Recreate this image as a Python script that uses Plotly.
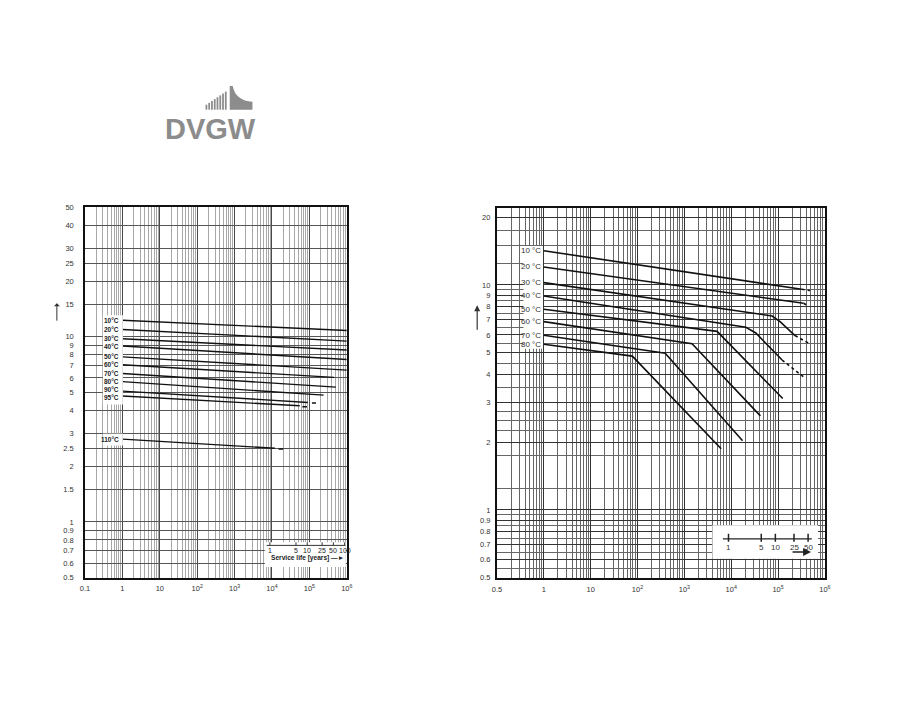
import math
import plotly.graph_objects as go

W, H = 904, 715
HOURS_PER_YEAR = 8760

# ---------------- left chart data (time in hours, stress) ----------------
LEFT_LABELS = ["10°C", "20°C", "30°C", "40°C", "50°C", "60°C", "70°C", "80°C", "90°C", "95°C", "110°C"]
LEFT_T_START = [1, 1, 1, 1, 1, 1, 1, 1, 1, 1, 1]
LEFT_T_END = [1e6, 1e6, 1e6, 1e6, 1e6, 4.6e5, 5.1e5, 2.4e5, 9.1e4, 5.5e4, 1.2e4]
LEFT_S_START = [12.28, 10.95, 9.76, 8.92, 7.79, 7.06, 6.34, 5.73, 5.09, 4.79, 2.80]
LEFT_S_END = [10.82, 9.48, 8.49, 7.54, 6.61, 6.04, 5.35, 4.84, 4.42, 4.24, 2.50]
LEFT_LABEL_NUDGE = [0, 0, 0, 0, 0, 0, 0, 0, 1.5, -1.5, 0]
LEFT_MARK_T0 = [1.17e5, 6.5e4, 1.5e4]
LEFT_MARK_T1 = [1.5e5, 8.6e4, 2.0e4]
LEFT_MARK_S = [4.39, 4.19, 2.48]
LEFT_YEARS = [1, 5, 10, 25, 50, 100]
LEFT_X_TICKS = [0.1, 1, 10, 1e2, 1e3, 1e4, 1e5, 1e6]
LEFT_X_TEXT = ["0.1", "1", "10", "10<sup>2</sup>", "10<sup>3</sup>", "10<sup>4</sup>", "10<sup>5</sup>", "10<sup>6</sup>"]
LEFT_Y_TICKS = [0.5, 0.6, 0.7, 0.8, 0.9, 1, 1.5, 2, 2.5, 3, 4, 5, 6, 7, 8, 9, 10, 15, 20, 25, 30, 40, 50]
LEFT_Y_TEXT = ["0.5", "0.6", "0.7", "0.8", "0.9", "1", "1.5", "2", "2.5", "3", "4", "5", "6", "7", "8", "9",
               "10", "15", "20", "25", "30", "40", "50"]

# ---------------- right chart data ----------------
RIGHT_LABELS = ["10 °C", "20 °C", "30 °C", "40 °C", "50 °C", "60 °C", "70 °C", "80 °C"]
RIGHT_T = [
    [1, 3.2e5],
    [1, 3.5e5],
    [1, 7.5e4, 1.12e5, 2.3e5],
    [1, 2.06e4, 3.35e4, 1.22e5],
    [1, 5.0e3, 1.26e5],
    [1, 1.46e3, 4.2e4],
    [1, 390, 1.75e4],
    [1, 77.5, 6.1e3],
]
RIGHT_S = [
    [14.2, 9.57],
    [12.03, 8.29],
    [10.24, 7.28, 6.85, 5.96],
    [8.94, 6.49, 6.12, 4.64],
    [7.80, 6.22, 3.13],
    [6.87, 5.48, 2.62],
    [5.98, 4.97, 2.03],
    [5.45, 4.83, 1.87],
]
RIGHT_EXT_T = [[3.2e5, 4.8e5], [3.5e5, 4.4e5], [2.3e5, 4.8e5], [1.22e5, 3.8e5]]
RIGHT_EXT_S = [[9.57, 9.45], [8.29, 8.07], [5.96, 5.47], [4.64, 3.85]]
RIGHT_YEARS = [1, 5, 10, 25, 50]
RIGHT_X_TICKS = [0.1, 1, 10, 1e2, 1e3, 1e4, 1e5, 1e6]
RIGHT_X_TEXT = ["0.5", "1", "10", "10<sup>2</sup>", "10<sup>3</sup>", "10<sup>4</sup>", "10<sup>5</sup>", "10<sup>6</sup>"]
RIGHT_Y_TICKS = [0.5, 0.6, 0.7, 0.8, 0.9, 1, 2, 3, 4, 5, 6, 7, 8, 9, 10, 20]
RIGHT_Y_TEXT = ["0.5", "0.6", "0.7", "0.8", "0.9", "1", "2", "3", "4", "5", "6", "7", "8", "9", "10", "20"]
RIGHT_Y_MINOR = [0.55, 0.65, 0.75, 0.85, 0.95, 1.25, 1.75, 2.25, 2.5, 2.75, 3.5, 4.5, 5.5, 6.5,
                 7.5, 8.5, 9.5, 12.5, 15, 17.5]

LOG_MINOR = [m * 10 ** e for e in range(-1, 6) for m in range(2, 10)]


def px(x):
    return x / W


def py(y):
    return 1 - y / H


FONT = "Liberation Sans, Arial, sans-serif"
fig = go.Figure()

# ---------------- left chart traces ----------------
for lab, t0, t1, s0, s1, nudge in zip(LEFT_LABELS, LEFT_T_START, LEFT_T_END, LEFT_S_START, LEFT_S_END,
                                      LEFT_LABEL_NUDGE):
    fig.add_trace(go.Scatter(x=[t0, t1], y=[s0, s1], mode="lines", line=dict(color="#111", width=1.4),
                             xaxis="x", yaxis="y", hoverinfo="skip", showlegend=False))
    fig.add_annotation(x=math.log10(t0), y=math.log10(s0), xref="x", yref="y", text=lab, showarrow=False,
                       xanchor="right", yanchor="middle", xshift=-2, yshift=nudge, borderpad=0,
                       font=dict(family=FONT, size=6.5, color="#222", weight="bold"))
for t0, t1, s in zip(LEFT_MARK_T0, LEFT_MARK_T1, LEFT_MARK_S):
    fig.add_trace(go.Scatter(x=[t0, t1], y=[s, s], mode="lines", line=dict(color="#111", width=1.4),
                             xaxis="x", yaxis="y", hoverinfo="skip", showlegend=False))

# ---------------- right chart traces ----------------
for lab, ts, ss in zip(RIGHT_LABELS, RIGHT_T, RIGHT_S):
    fig.add_trace(go.Scatter(x=ts, y=ss, mode="lines", line=dict(color="#111", width=1.6),
                             xaxis="x2", yaxis="y2", hoverinfo="skip", showlegend=False))
    fig.add_annotation(x=math.log10(ts[0]), y=math.log10(ss[0]), xref="x2", yref="y2", text=lab,
                       showarrow=False, xanchor="right", yanchor="middle", xshift=-2,
                       borderpad=0, font=dict(family=FONT, size=8, color="#333"))
for ts, ss in zip(RIGHT_EXT_T, RIGHT_EXT_S):
    fig.add_trace(go.Scatter(x=ts, y=ss, mode="lines", line=dict(color="#111", width=1.6, dash="3px,3px"),
                             xaxis="x2", yaxis="y2", hoverinfo="skip", showlegend=False))

# ---------------- shapes (drawn above the grid) ----------------
shapes = []
# white label columns
shapes.append(dict(type="rect", xref="x domain", yref="y domain", x0=0.068, x1=0.1445, y0=0.468, y1=0.709,
                   fillcolor="white", line_width=0, layer="above"))
shapes.append(dict(type="rect", xref="x domain", yref="y domain", x0=0.068, x1=0.1445, y0=0.357, y1=0.389,
                   fillcolor="white", line_width=0, layer="above"))
shapes.append(dict(type="rect", xref="x2 domain", yref="y2 domain", x0=0.081, x1=0.1405, y0=0.620, y1=0.898,
                   fillcolor="white", line_width=0, layer="above"))
# inset boxes
shapes.append(dict(type="rect", xref="x domain", yref="y domain", x0=0.687, x1=0.996, y0=0.029, y1=0.096,
                   fillcolor="white", line_width=0, layer="above"))
shapes.append(dict(type="rect", xref="x2 domain", yref="y2 domain", x0=0.657, x1=0.979, y0=0.051, y1=0.142,
                   fillcolor="white", line_width=0, layer="above"))
# inset axis lines
shapes.append(dict(type="line", xref="x domain", yref="y domain", x0=0.694, x1=0.995, y0=0.0872, y1=0.0872,
                   line=dict(color="#333", width=1), layer="above"))
shapes.append(dict(type="line", xref="x2 domain", yref="y2 domain", x0=0.689, x1=0.960, y0=0.105, y1=0.105,
                   line=dict(color="#222", width=1.3), layer="above"))
# inset ticks (years converted to hours, data coordinates)
for yr in LEFT_YEARS:
    shapes.append(dict(type="line", xref="x", yref="y", x0=yr * HOURS_PER_YEAR, x1=yr * HOURS_PER_YEAR,
                       y0=0.748, y1=0.776, line=dict(color="#333", width=1), layer="above"))
for yr in RIGHT_YEARS:
    shapes.append(dict(type="line", xref="x2", yref="y2", x0=yr * HOURS_PER_YEAR, x1=yr * HOURS_PER_YEAR,
                       y0=0.723, y1=0.783, line=dict(color="#222", width=1.5), layer="above"))

# logo stripes
for i in range(8):
    x0 = 203.0 + i * 2.8
    top = 102 - i * 1.9
    shapes.append(dict(type="rect", xref="paper", yref="paper", x0=px(x0), x1=px(x0 + 1.8),
                       y0=py(107), y1=py(top), fillcolor="#8c8c8c", line_width=0, layer="above"))
path = "M {:.5f},{:.5f} L {:.5f},{:.5f} Q {:.5f},{:.5f} {:.5f},{:.5f} L {:.5f},{:.5f} L {:.5f},{:.5f} Z".format(
    px(227.5), py(83), px(230.5), py(83), px(233.5), py(98), px(250.5), py(99), px(250.5), py(107),
    px(227.5), py(107))
shapes.append(dict(type="path", xref="paper", yref="paper", path=path, fillcolor="#8c8c8c", line_width=0,
                   layer="above"))

fig.update_layout(shapes=shapes)

# inset tick labels
for yr in LEFT_YEARS:
    fig.add_annotation(x=math.log10(yr * HOURS_PER_YEAR), y=math.log10(0.705), xref="x", yref="y",
                       text=str(yr), showarrow=False, xanchor="center", yanchor="middle",
                       font=dict(family=FONT, size=7, color="#222"))
for yr in RIGHT_YEARS:
    fig.add_annotation(x=math.log10(yr * HOURS_PER_YEAR), y=math.log10(0.683), xref="x2", yref="y2",
                       text=str(yr), showarrow=False, xanchor="center", yanchor="middle",
                       font=dict(family=FONT, size=8, color="#333"))

# logo text
fig.add_annotation(x=px(208), y=py(127), xref="paper", yref="paper", text="DVGW", showarrow=False,
                   xanchor="center", yanchor="middle",
                   font=dict(family=FONT, size=29, color="#8c8c8c", weight="bold"))

# service life text left inset
fig.add_annotation(x=px(267), y=py(561.5), xref="paper", yref="paper", text="Service life [years] —►",
                   showarrow=False, xanchor="left", yanchor="middle",
                   font=dict(family=FONT, size=6.6, color="#222", weight="bold"))
# right inset arrow
fig.add_annotation(x=px(816), y=py(555), ax=-20, ay=0, xref="paper", yref="paper", text="",
                   showarrow=True, arrowhead=2, arrowsize=1, arrowwidth=1.6, arrowcolor="#222")
# vertical arrows
fig.add_annotation(x=px(52.5), y=py(303), ax=0, ay=19, xref="paper", yref="paper", text="",
                   showarrow=True, arrowhead=1, arrowsize=1, arrowwidth=1, arrowcolor="#333")
fig.add_annotation(x=px(478), y=py(305), ax=0, ay=26, xref="paper", yref="paper", text="",
                   showarrow=True, arrowhead=2, arrowsize=1, arrowwidth=1.2, arrowcolor="#333")

tickfont = dict(family=FONT, size=7.5, color="#333")

fig.update_layout(
    width=W, height=H, margin=dict(l=0, r=0, t=0, b=0),
    paper_bgcolor="white", plot_bgcolor="white", showlegend=False,
    xaxis=dict(type="log", domain=[px(81), px(346)], range=[-1, 6], tickmode="array",
               tickvals=LEFT_X_TICKS, ticktext=LEFT_X_TEXT, tickfont=tickfont, ticks="",
               showgrid=True, gridcolor="#4a4a4a", gridwidth=1,
               minor=dict(tickvals=LOG_MINOR, showgrid=True, gridcolor="#a8a8a8", gridwidth=1, ticks=""),
               showline=True, linecolor="#111", linewidth=1.5, mirror=True, zeroline=False,
               anchor="y", ticklabelstandoff=3),
    yaxis=dict(type="log", domain=[py(581), py(206)], range=[math.log10(0.5), math.log10(50)],
               tickmode="array", tickvals=LEFT_Y_TICKS, ticktext=LEFT_Y_TEXT, tickfont=tickfont, ticks="",
               showgrid=True, gridcolor="#555", gridwidth=1,
               showline=True, linecolor="#111", linewidth=1.5, mirror=True, zeroline=False,
               anchor="x", ticklabelstandoff=8),
    xaxis2=dict(type="log", domain=[px(498), px(830)], range=[-1, 6], tickmode="array",
                tickvals=RIGHT_X_TICKS, ticktext=RIGHT_X_TEXT, tickfont=tickfont, ticks="",
                showgrid=True, gridcolor="#333", gridwidth=1,
                minor=dict(tickvals=LOG_MINOR, showgrid=True, gridcolor="#666", gridwidth=1, ticks=""),
                showline=True, linecolor="#111", linewidth=2, mirror=True, zeroline=False,
                anchor="y2", ticklabelstandoff=3),
    yaxis2=dict(type="log", domain=[py(581), py(207)], range=[math.log10(0.5), math.log10(21.9)],
                tickmode="array", tickvals=RIGHT_Y_TICKS, ticktext=RIGHT_Y_TEXT, tickfont=tickfont, ticks="",
                showgrid=True, gridcolor="#333", gridwidth=1,
                minor=dict(tickvals=RIGHT_Y_MINOR, showgrid=True, gridcolor="#666", gridwidth=1, ticks=""),
                showline=True, linecolor="#111", linewidth=2, mirror=True, zeroline=False,
                anchor="x2", ticklabelstandoff=3),
)

fig.write_html("out.html", config={"displayModeBar": False},
               post_script="document.body.style.margin='0';document.body.style.overflow='hidden';")
